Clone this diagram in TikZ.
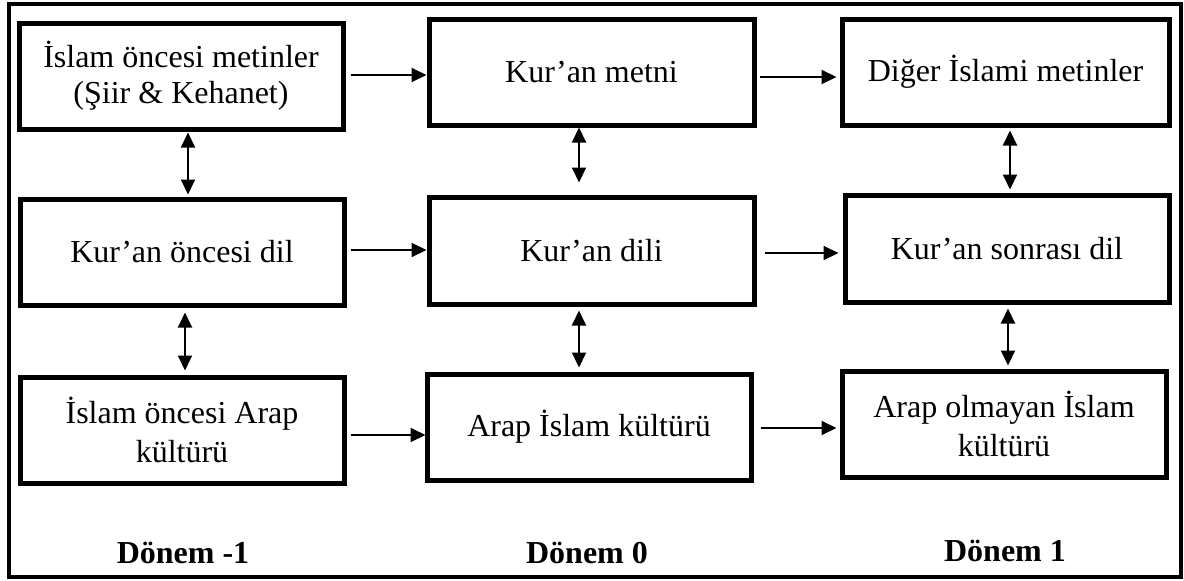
\documentclass[tikz,border=0pt]{standalone}
\usepackage{fontspec}
\setmainfont{Liberation Serif}
\usetikzlibrary{arrows.meta,calc}
\begin{document}
\begin{tikzpicture}[x=1pt,y=-1pt,
  box/.style={draw, line width=5pt, minimum width=324pt, minimum height=106pt, inner sep=0pt, align=center, font=\fontsize{32}{36}\selectfont},
  wide/.style={font=\fontsize{32}{39}\selectfont},
  arr/.style={line width=2pt, -{Triangle[length=15pt,width=14pt]}},
  dbl/.style={line width=2pt, {Triangle[length=15pt,width=14pt]}-{Triangle[length=15pt,width=14pt]}},
  lbl/.style={font=\fontsize{32}{36}\selectfont\bfseries, inner sep=0pt}]
\useasboundingbox (0,0) rectangle (1184,581);
\draw[line width=4pt] (9,4) rectangle (1181,577);
% row 1
\node[box] (b1) at (181,76) {İslam öncesi metinler\\(Şiir \& Kehanet)};
\node[box, minimum width=325pt] (b2) at (591.5,72) {Kur’an metni};
\node[box, minimum width=327pt] (b3) at (1005.5,72) {Diğer İslami metinler};
% row 2
\node[box] (b4) at (182,252) {Kur’an öncesi dil};
\node[box, minimum width=325pt, minimum height=107pt] (b5) at (591.5,250.5) {Kur’an dili};
\node[box, minimum height=107pt] (b6) at (1007,248.5) {Kur’an sonrası dil};
% row 3
\node[box, wide] (b7) at (182,430) {İslam öncesi Arap\\kültürü};
\node[box] (b8) at (589,427) {Arap İslam kültürü};
\node[box, wide] (b9) at (1004,424) {Arap olmayan İslam\\kültürü};
% labels
\node[lbl] (l1) at (183,552.5) {Dönem -1};
\node[lbl] (l2) at (587,552.5) {Dönem 0};
\node[lbl] (l3) at (1005,550.5) {Dönem 1};
% horizontal arrows
\draw[arr] ($(b1.east)+(5,-1)$) -- ($(b2.west)+(0,3)$);
\draw[arr] ($(b2.east)+(3,5)$) -- ($(b3.west)+(-3,5)$);
\draw[arr] ($(b4.east)+(4,-2)$) -- ($(b5.west)+(0,-0.5)$);
\draw[arr] ($(b5.east)+(8,2.5)$) -- ($(b6.west)+(-4,4.5)$);
\draw[arr] ($(b7.east)+(4,5)$) -- ($(b8.west)+(1,8)$);
\draw[arr] ($(b8.east)+(7,1)$) -- ($(b9.west)+(-3,4)$);
% vertical arrows
\draw[dbl] ($(b1.south)+(7,1)$) -- ($(b4.north)+(6,-2)$);
\draw[dbl] ($(b4.south)+(3,5)$) -- ($(b7.north)+(3,-4)$);
\draw[dbl] ($(b2.south)+(-12.5,0)$) -- ($(b5.north)+(-12.5,-12)$);
\draw[dbl] ($(b5.south)+(-12.5,4)$) -- ($(b8.north)+(-10,-4)$);
\draw[dbl] ($(b3.south)+(4.5,3)$) -- ($(b6.north)+(3,-3)$);
\draw[dbl] ($(b6.south)+(1,4)$) -- ($(b9.north)+(4,-3)$);
\end{tikzpicture}
\end{document}
